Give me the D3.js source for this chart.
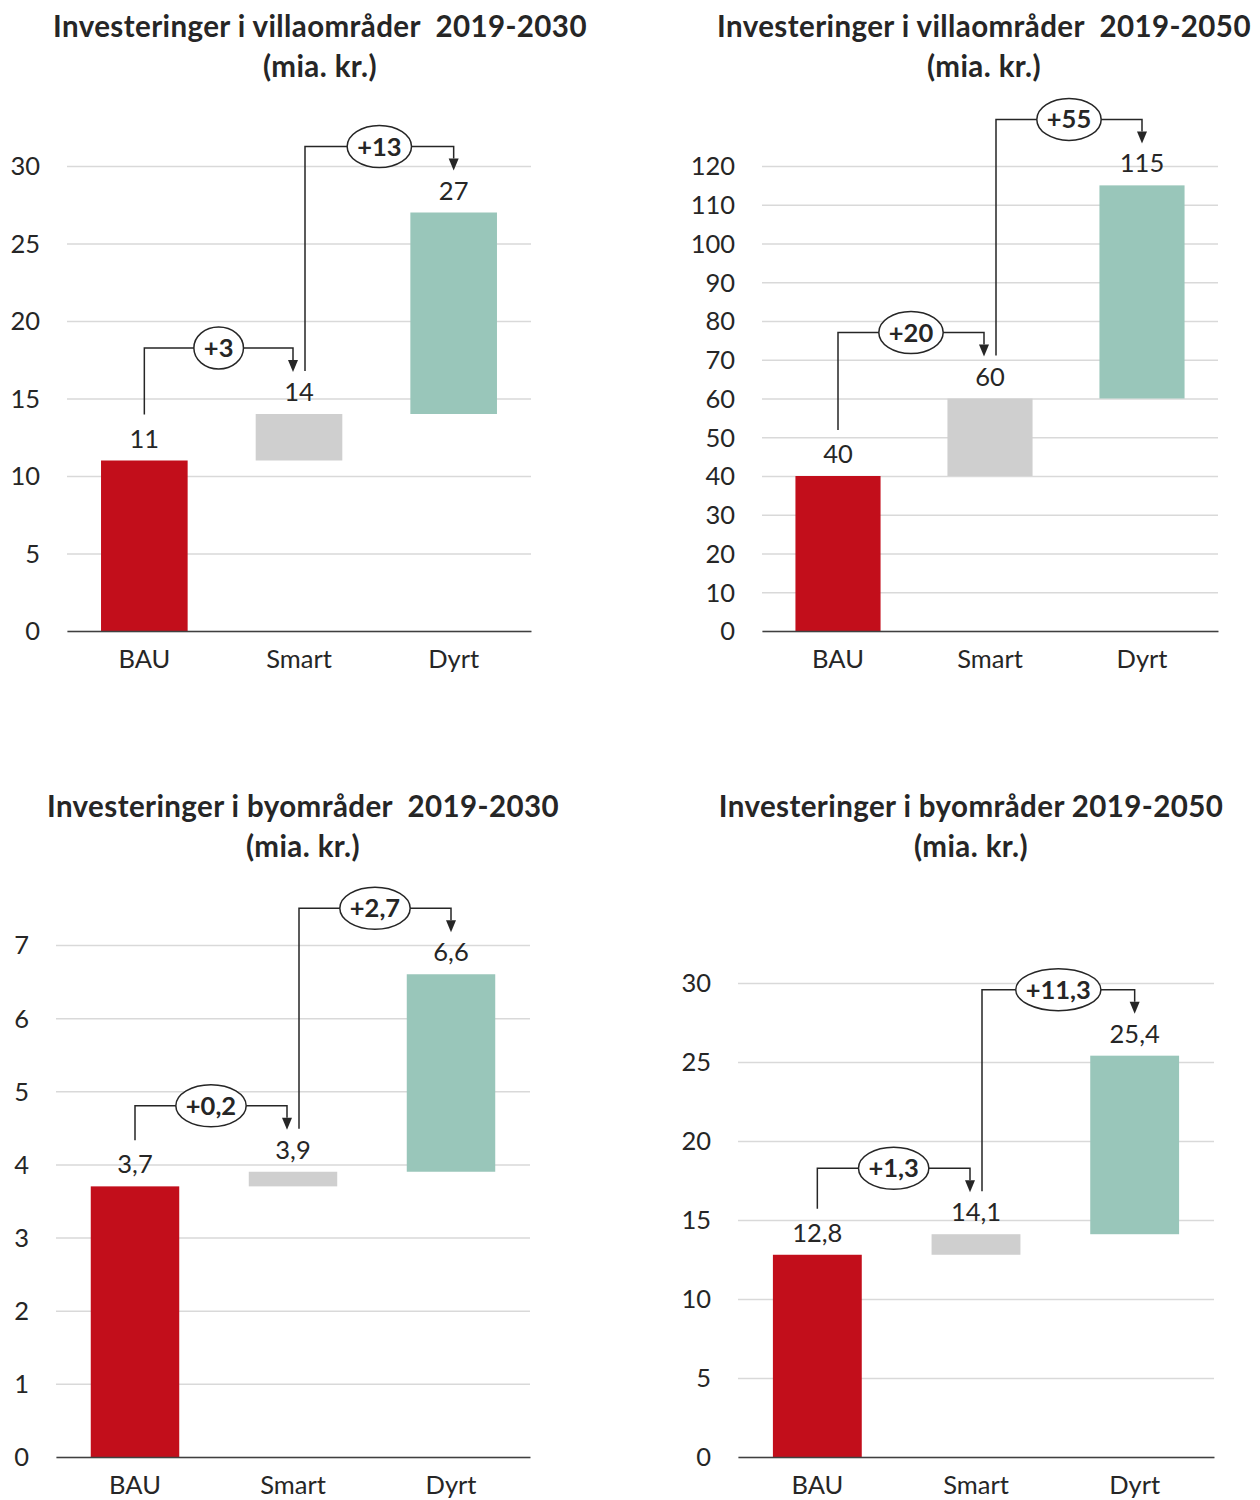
<!DOCTYPE html>
<html>
<head>
<meta charset="utf-8">
<script src="https://cdn.jsdelivr.net/npm/d3@7"></script>
<style>
  html, body { margin: 0; padding: 0; background: #fff; }
  svg text { font-family: Lato, "Noto Sans", sans-serif; fill: #262626; }
</style>
</head>
<body>
<svg id="chart" width="1260" height="1500"></svg>
<script>
// Categories shared by all four waterfalls
const categories = ["BAU", "Smart", "Dyrt"];

// Cumulative investment (mia. kr.) per scenario
const villa2030 = [11, 14, 27];
const villa2050 = [40, 60, 115];
const by2030 = [3.7, 3.9, 6.6];
const by2050 = [12.8, 14.1, 25.4];

// Axis tick values
const ticksVilla2030 = [0, 5, 10, 15, 20, 25, 30];
const ticksVilla2050 = [0, 10, 20, 30, 40, 50, 60, 70, 80, 90, 100, 110, 120];
const ticksBy2030 = [0, 1, 2, 3, 4, 5, 6, 7];
const ticksBy2050 = [0, 5, 10, 15, 20, 25, 30];

// Titles
const titleVilla2030 = "Investeringer i villaområder\u00a0 2019-2030";
const titleVilla2050 = "Investeringer i villaområder\u00a0 2019-2050";
const titleBy2030 = "Investeringer i byområder\u00a0 2019-2030";
const titleBy2050 = "Investeringer i byområder 2019-2050";
const subtitle = "(mia. kr.)";

const barColors = ["#c20e1b", "#cfcfcf", "#99c6ba"];
const fmt = v => String(v).replace(".", ",");
const deltaFmt = (a, b) => "+" + fmt(Math.round((b - a) * 10) / 10);

const svg = d3.select("#chart");

// Panel layouts
const panels = [
  { values: villa2030, ticks: ticksVilla2030, title: titleVilla2030,
    x0: 67, x1: 531, yBottom: 631, yTop: 166, titleX: 320, titleY: 37 },
  { values: villa2050, ticks: ticksVilla2050, title: titleVilla2050,
    x0: 762, x1: 1218, yBottom: 631, yTop: 166, titleX: 984, titleY: 37 },
  { values: by2030, ticks: ticksBy2030, title: titleBy2030,
    x0: 56, x1: 530, yBottom: 1457, yTop: 945, titleX: 303, titleY: 817 },
  { values: by2050, ticks: ticksBy2050, title: titleBy2050,
    x0: 738, x1: 1214, yBottom: 1457, yTop: 983, titleX: 971, titleY: 817 }
];

panels.forEach(p => drawPanel(p));

function drawPanel(p) {
  const g = svg.append("g");
  const vals = p.values;

  const x = d3.scaleBand()
    .domain(categories)
    .range([p.x0, p.x1])
    .paddingInner(0.44)
    .paddingOuter(0.22);

  const y = d3.scaleLinear()
    .domain([0, d3.max(p.ticks)])
    .range([p.yBottom, p.yTop]);

  // Title
  [p.title, subtitle].forEach((txt, k) => {
    g.append("text")
      .attr("x", p.titleX).attr("y", p.titleY + k * 40)
      .attr("text-anchor", "middle")
      .style("font-size", "29.5px").style("font-weight", "bold")
      .style("letter-spacing", "0.4px")
      .text(txt);
  });

  // Y axis with gridlines
  const yAxis = g.append("g")
    .attr("transform", `translate(${p.x0},0)`)
    .call(d3.axisLeft(y)
      .tickValues(p.ticks)
      .tickSize(-(p.x1 - p.x0))
      .tickPadding(27)
      .tickFormat(d => fmt(d)));
  yAxis.select(".domain").remove();
  yAxis.selectAll(".tick line")
    .attr("stroke", "#d9d9d9").attr("stroke-width", 1.5);
  yAxis.selectAll(".tick text")
    .style("font-size", "25.5px")
    .attr("dy", "0.35em");

  // Bars: base column, then floating increments
  const bars = categories.map((c, i) => ({
    cat: c,
    lo: i === 0 ? 0 : vals[i - 1],
    hi: vals[i],
    color: barColors[i]
  }));
  g.selectAll("rect.bar").data(bars).enter().append("rect")
    .attr("class", "bar")
    .attr("x", d => x(d.cat))
    .attr("width", x.bandwidth())
    .attr("y", d => y(d.hi))
    .attr("height", d => y(d.lo) - y(d.hi))
    .attr("fill", d => d.color);

  // X axis baseline and category labels
  const xAxis = g.append("g")
    .attr("transform", `translate(0,${p.yBottom})`)
    .call(d3.axisBottom(x).tickSize(0).tickPadding(19));
  xAxis.select(".domain")
    .attr("stroke", "#404040").attr("stroke-width", 1.5);
  xAxis.selectAll(".tick text")
    .style("font-size", "25.5px")
    .attr("dy", "0.71em");

  // Value labels above each column
  g.selectAll("text.val").data(bars).enter().append("text")
    .attr("class", "val")
    .attr("x", d => x(d.cat) + x.bandwidth() / 2)
    .attr("y", d => y(d.hi) - 13)
    .attr("text-anchor", "middle")
    .style("font-size", "25.5px")
    .text(d => fmt(d.hi));

  // Step connectors with delta badges
  const cx = i => x(categories[i]) + x.bandwidth() / 2;
  const steps = [
    { xs: cx(0), ys: y(vals[0]) - 46, xe: cx(1) - 6, target: vals[1], label: deltaFmt(vals[0], vals[1]) },
    { xs: cx(1) + 6, ys: y(vals[1]) - 43, xe: cx(2), target: vals[2], label: deltaFmt(vals[1], vals[2]) }
  ];

  steps.forEach(s => {
    const yLevel = y(s.target) - 66;
    const tip = y(s.target) - 42;
    const arrowH = 12;
    g.append("path")
      .attr("d", `M${s.xs},${s.ys} V${yLevel} H${s.xe} V${tip - arrowH}`)
      .attr("fill", "none")
      .attr("stroke", "#262626")
      .attr("stroke-width", 1.5);
    g.append("path")
      .attr("d", `M${s.xe - 5},${tip - arrowH} L${s.xe + 5},${tip - arrowH} L${s.xe},${tip} Z`)
      .attr("fill", "#262626");

    const mx = (s.xs + s.xe) / 2;
    const ell = g.append("ellipse")
      .attr("cx", mx).attr("cy", yLevel)
      .attr("fill", "#fff")
      .attr("stroke", "#262626")
      .attr("stroke-width", 1.5);
    const t = g.append("text")
      .attr("x", mx).attr("y", yLevel + 9)
      .attr("text-anchor", "middle")
      .style("font-size", "25.5px").style("font-weight", "bold")
      .text(s.label);
    const w = t.node().getComputedTextLength();
    ell.attr("rx", Math.max(w / 2 + 10, 21)).attr("ry", 21);
  });
}
</script>
</body>
</html>
